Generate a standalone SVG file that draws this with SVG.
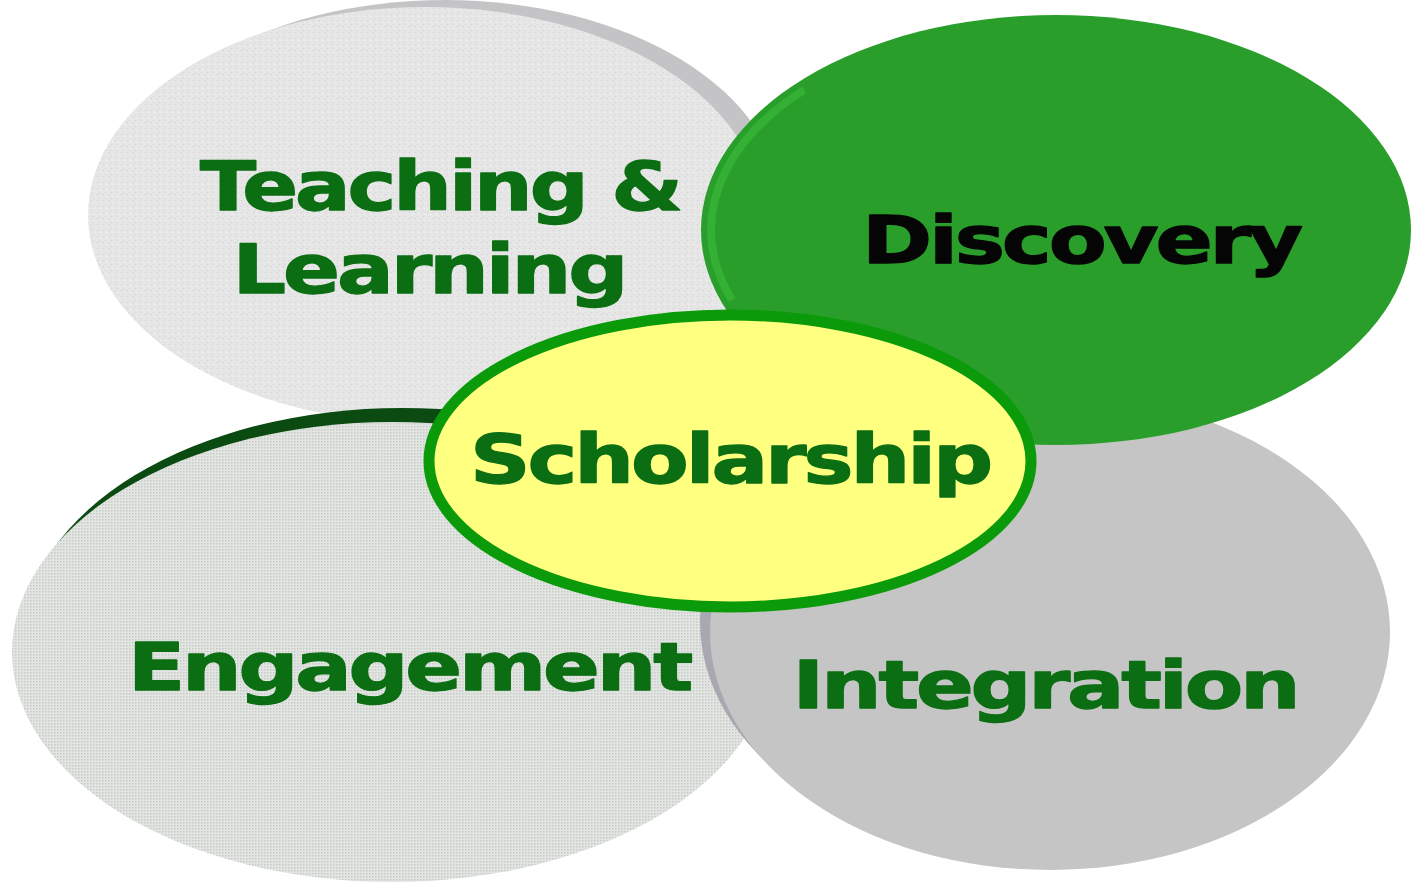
<svg xmlns="http://www.w3.org/2000/svg" width="1419" height="890" viewBox="0 0 1419 890">
<style>
text{font-family:"DejaVu Sans","Liberation Sans",sans-serif;font-weight:bold;letter-spacing:-2.5px;stroke-width:1.3px;stroke-linejoin:round}
.lbl{fill:#0b6e12;stroke:#0b6e12}
.dk{fill:#050505;stroke:#050505}
</style>
<defs>
<pattern id="speck" width="6" height="6" patternUnits="userSpaceOnUse">
<rect width="6" height="6" fill="#e6e6e6"/>
<rect x="1" y="2" width="1" height="1" fill="#cfcfcf"/>
<rect x="4" y="4" width="1" height="1" fill="#f4f4f4"/>
<rect x="3" y="0" width="1" height="1" fill="#d6d6d6"/>
</pattern>
<pattern id="dots" width="3" height="3" patternUnits="userSpaceOnUse">
<rect width="3" height="3" fill="#e2e5e2"/>
<rect x="0" y="0" width="1.5" height="1.5" fill="#c6cbc6"/>
</pattern>
</defs>
<rect width="1419" height="890" fill="#ffffff"/>
<g id="teaching">
<ellipse cx="445" cy="205" rx="335" ry="205" fill="#c4c4c6"/>
<ellipse cx="425" cy="215" rx="337" ry="208" fill="url(#speck)"/>
<text class="lbl" x="440" y="210" font-size="68" text-anchor="middle" textLength="480" lengthAdjust="spacingAndGlyphs">Teaching &amp;</text>
<text class="lbl" x="429" y="293" font-size="68" text-anchor="middle" textLength="393" lengthAdjust="spacingAndGlyphs">Learning</text>
</g>
<g id="engagement">
<ellipse cx="402" cy="638" rx="378" ry="230" fill="#0b4a10"/>
<ellipse cx="392" cy="652" rx="380" ry="230" fill="url(#dots)"/>
<text class="lbl" x="409" y="690" font-size="66" text-anchor="middle" textLength="562" lengthAdjust="spacingAndGlyphs">Engagement</text>
</g>
<g id="integration">
<ellipse cx="1035" cy="622" rx="335" ry="235" fill="#a9a8b2"/>
<ellipse cx="1050" cy="632" rx="340" ry="238" fill="#c5c5c5"/>
<text class="lbl" x="1045" y="708" font-size="66" text-anchor="middle" textLength="505" lengthAdjust="spacingAndGlyphs">Integration</text>
</g>
<g id="discovery">
<ellipse cx="1056" cy="230" rx="355" ry="215" fill="#2a9e2a"/>
<path d="M732,300 A345,205 0 0 1 804,90" fill="none" stroke="#34b034" stroke-width="8"/>
<text class="dk" x="1081" y="263" font-size="66" text-anchor="middle" textLength="438" lengthAdjust="spacingAndGlyphs">Discovery</text>
</g>
<g id="scholarship">
<ellipse cx="730" cy="461" rx="301" ry="146" fill="#ffff80" stroke="#0a9a0a" stroke-width="11"/>
<text class="lbl" x="730" y="483" font-size="68" text-anchor="middle" textLength="520" lengthAdjust="spacingAndGlyphs">Scholarship</text>
</g>
<g id="connectors"></g>
</svg>
